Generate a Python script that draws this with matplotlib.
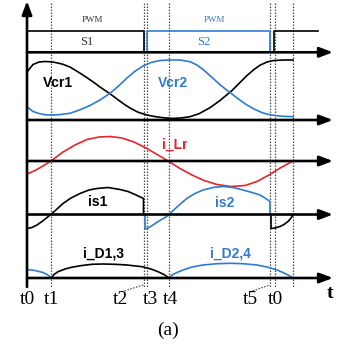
import matplotlib
matplotlib.use("Agg")
import matplotlib.pyplot as plt

# ---------------------------------------------------------------------------
# data (time axis in arbitrary units, t0 = 0)
# ---------------------------------------------------------------------------
t_marks = [24.3, 116.5, 120.3, 142.0, 243.0, 247.5, 266.3]
tick_labels = ["t0", "t1", "t2", "t3", "t4", "t5", "t0"]
tick_pos = [0.0, 24.7, 93.0, 123.0, 143.0, 223.5, 248.0]

# gate signals (1 = on)
s1_t = [0, 116.5, 116.5]
s1_v = [1, 1, 0]
s1b_t = [247.0, 247.0, 291.0]
s1b_v = [0, 1, 1]
s2_t = [120.3, 120.3, 242.5, 242.5]
s2_v = [0, 1, 1, 0]

vcr1_t = [0, 6, 12, 18, 26, 35, 43, 52, 60, 67, 73, 78, 83, 88, 93, 98, 103,
          111, 120, 128, 136, 145, 154, 163, 172, 183, 193, 199, 205, 212,
          220, 227, 233, 240, 246, 256, 266]
vcr1_v = [48, 55.5, 58, 58.5, 58, 56, 53, 47.5, 42.3, 37.5, 33, 29.6, 26.2,
          22.5, 18.8, 15.2, 12, 7.8, 5, 3.4, 2.3, 1.6, 2, 3.3, 6.3, 12.3,
          19.5, 24.5, 29.5, 36.5, 44.5, 50.5, 54.8, 58, 59.4, 60, 60]

vcr2_t = [0, 6, 12, 18, 24, 32, 43, 53, 63, 73, 83, 91, 100, 108, 116, 124,
          133, 143, 153, 163, 170, 176, 184, 193, 199, 205, 212, 220, 228,
          236, 244, 250, 258, 266]
vcr2_v = [13.3, 8.5, 6.5, 5.3, 5, 5.3, 6.7, 10.2, 14.5, 20, 26.7, 33.5, 42,
          48.8, 54, 57.5, 59.5, 60, 60, 58.3, 55, 50.5, 43.5, 35.3, 30.5, 26,
          20.5, 15, 10.5, 7, 5, 4.2, 3.6, 3.3]

ilr_t = [0, 8, 16, 24, 36, 48, 60, 72, 83, 95, 107, 119, 131, 141, 153, 165,
         177, 190, 204, 218, 230, 242, 254, 266]
ilr_v = [-13, -9.5, -5, 0, 9, 16, 21.5, 24, 24.5, 23, 19, 13, 6, 0, -7.5,
         -14, -19.5, -23.5, -25.5, -24.5, -20.5, -14, -6.5, 0]

is1_t = [0, 5, 10, 15, 20, 25, 30, 36, 44, 53, 62, 70, 81, 93, 101, 108,
         116.5, 116.5]
is1_v = [-14, -13, -10.5, -7, -3, 1, 5.5, 11, 16.5, 21, 24.5, 26, 27, 25,
         23, 20, 16, 0]
is1b_t = [244, 244, 248, 253, 257, 261, 264, 266.3]
is1b_v = [0, -14, -13.5, -12, -10, -7, -3.5, 0]

is2_t = [118, 118, 122, 126, 132, 139.7, 143, 150, 159.7, 168, 176, 186,
         196.3, 206, 216, 225, 233, 238, 243, 243]
is2_v = [0, -14.5, -13, -10.5, -6.5, -2, 1, 7.5, 16, 21, 24.5, 27, 28, 27,
         24.5, 22, 19.5, 16.5, 13, 0]

id24a_t = [0, 8, 16, 21, 24.3]
id24a_v = [8.5, 7.5, 5.5, 3, 0]
id13_t = [24.3, 27, 31, 38, 45, 55, 65, 76, 88, 100, 115, 124, 131, 137, 142]
id13_v = [0, 3.5, 6.3, 9, 10.8, 12.5, 13.7, 14, 13.7, 13, 11.3, 9, 6.3, 3.5, 0]
id24_t = [142, 145, 150, 156, 165, 176, 190, 203, 216, 230, 240, 250, 257,
          262, 266.3]
id24_v = [0, 3, 5.5, 8, 11, 13, 14.3, 14.7, 14.3, 13, 11, 8, 5, 2.5, 0]

# ---------------------------------------------------------------------------
# layout / style
# ---------------------------------------------------------------------------
BASE_PWM = 52.3
BASE_VCR = 120.0
BASE_ILR = 161.0
BASE_IS = 214.5
BASE_ID = 278.0
PWM_H = 21.6

X_END = 306.0
BLUE = "#2f7bd0"
RED = "#e8232b"
LW = 1.2
AX_LW = 1.9
SERIF = "Liberation Serif"
SANS = "Liberation Sans"

fig = plt.figure(figsize=(3.39, 3.49), dpi=100)
ax = fig.add_axes([0, 0, 1, 1])
ax.set_xlim(-27, 312)
ax.set_ylim(349, 0)
ax.axis("off")


def trace(t, v, base, color, scale=1.0):
    ax.plot(t, [base - scale * y for y in v], color=color, lw=LW,
            solid_joinstyle="round", zorder=3)


# dashed time markers
for tm in t_marks:
    ax.plot([tm, tm], [3, 288], color="0.3", lw=0.9,
            linestyle=(0, (1.2, 1.2)), zorder=1)

# horizontal axes
arrow = dict(arrowstyle="-|>,head_length=0.8,head_width=0.3", lw=AX_LW,
             color="k", shrinkA=0, shrinkB=0, mutation_scale=10)
for base in [BASE_PWM, BASE_VCR, BASE_ILR, BASE_IS, BASE_ID]:
    ax.annotate("", xy=(X_END, base), xytext=(0, base), arrowprops=arrow,
                zorder=4)
# vertical axis
ax.annotate("", xy=(0, 1), xytext=(0, 287), arrowprops=arrow, zorder=4)

# waveforms
trace(s1_t, s1_v, BASE_PWM, "k", PWM_H)
trace(s1b_t, s1b_v, BASE_PWM, "k", PWM_H)
trace(s2_t, s2_v, BASE_PWM, BLUE, PWM_H)
trace(vcr1_t, vcr1_v, BASE_VCR, "k")
trace(vcr2_t, vcr2_v, BASE_VCR, BLUE)
trace(ilr_t, ilr_v, BASE_ILR, RED)
trace(is1_t, is1_v, BASE_IS, "k")
trace(is1b_t, is1b_v, BASE_IS, "k")
trace(is2_t, is2_v, BASE_IS, BLUE)
trace(id24a_t, id24a_v, BASE_ID, BLUE)
trace(id13_t, id13_v, BASE_ID, "k")
trace(id24_t, id24_v, BASE_ID, BLUE)

# labels
ax.text(65.5, 20, "PWM", family=SERIF, fontsize=6.5, color="0.2",
        ha="center", va="center")
ax.text(187, 20, "PWM", family=SERIF, fontsize=6.5, color=BLUE,
        ha="center", va="center")
ax.text(60, 41.7, "S1", family=SERIF, fontsize=9, ha="center", va="center",
        color="0.2")
ax.text(177, 41.7, "S2", family=SERIF, fontsize=9, ha="center", va="center",
        color=BLUE)

bold = dict(family=SANS, fontsize=10, fontweight="bold", ha="center",
            va="center")
ax.text(31.3, 83, "Vcr1", color="k", **bold)
ax.text(146.3, 83, "Vcr2", color=BLUE, **bold)
ax.text(147.7, 145, "i_Lr", color=RED, **bold)
ax.text(70.8, 201.7, "is1", color="k", **bold)
ax.text(198, 203.3, "is2", color=BLUE, **bold)
ax.text(77, 253.5, "i_D1,3", color="k", **bold)
ax.text(203.5, 253.5, "i_D2,4", color=BLUE, **bold)

for pos, lab in zip(tick_pos, tick_labels):
    ax.text(pos, 300, lab, family=SERIF, fontsize=14, ha="center",
            va="center")

# leaders for t2 and t5
ax.plot([94.7, 116.3], [291.7, 285], color="0.3", lw=0.9,
        linestyle=(0, (1.2, 1.2)))
ax.plot([223, 243], [291.7, 285], color="0.3", lw=0.9,
        linestyle=(0, (1.2, 1.2)))

ax.text(303, 294, "t", family=SERIF, fontsize=14, fontweight="bold",
        ha="center", va="center")
ax.text(140.5, 330, "(a)", family=SERIF, fontsize=14, ha="center",
        va="center")

fig.savefig("out.png", dpi=100, facecolor="white")
